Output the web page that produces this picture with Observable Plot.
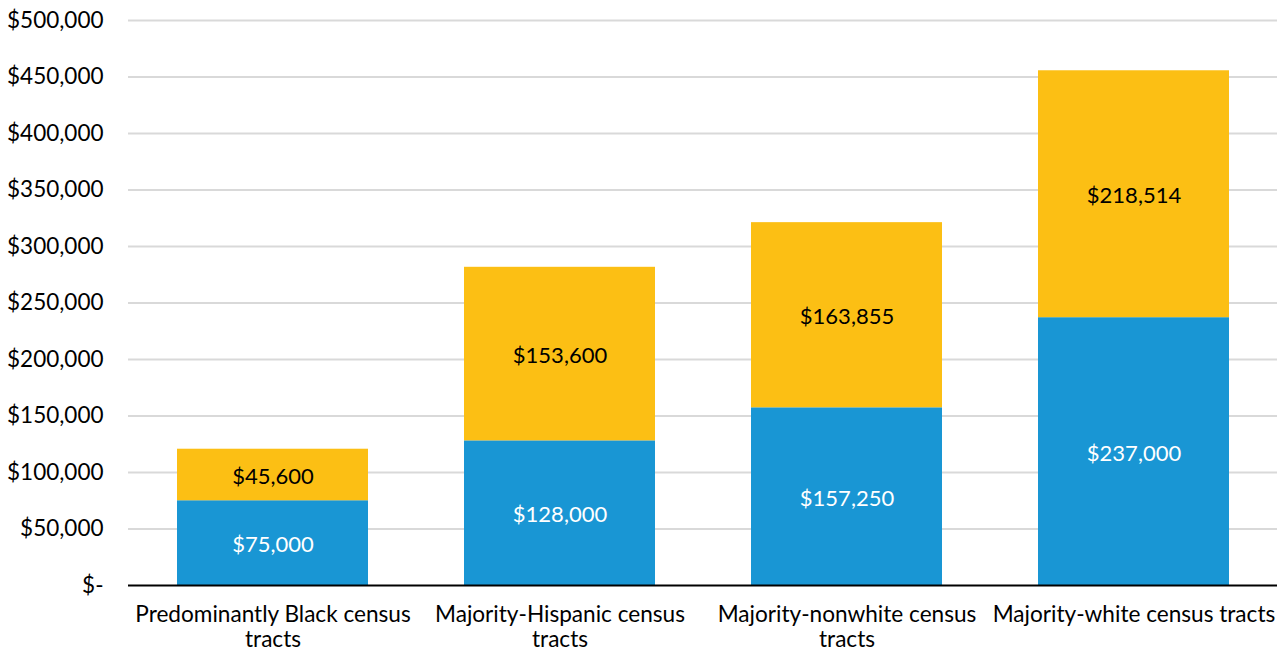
<!DOCTYPE html>
<html>
<head>
<meta charset="utf-8">
<script src="https://cdn.jsdelivr.net/npm/d3@7"></script>
<script src="https://cdn.jsdelivr.net/npm/@observablehq/plot@0.6"></script>
<style>
  html, body { margin: 0; padding: 0; background: #fff; }
  #chart svg { display: block; font-family: Lato, sans-serif; }
</style>
</head>
<body>
<div id="chart"></div>
<script>
const categories = [
  "Predominantly Black census\ntracts",
  "Majority-Hispanic census\ntracts",
  "Majority-nonwhite census\ntracts",
  "Majority-white census tracts"
];
const seriesNames = ["Lower", "Upper"];
const lowerValues = [75000, 128000, 157250, 237000];
const upperValues = [45600, 153600, 163855, 218514];
const yTicks = [0, 50000, 100000, 150000, 200000, 250000, 300000, 350000, 400000, 450000, 500000];
const seriesColors = ["#1996d4", "#fcbf14"];
const labelColors = ["#ffffff", "#000000"];

const data = [];
categories.forEach((c, i) => {
  data.push({category: c, series: seriesNames[0], value: lowerValues[i]});
  data.push({category: c, series: seriesNames[1], value: upperValues[i]});
});

const fmt = v => v === 0 ? "$-" : "$" + d3.format(",")(v);

const chart = Plot.plot({
  width: 1282,
  height: 654,
  marginLeft: 128,
  marginRight: 5,
  marginTop: 20,
  marginBottom: 69,
  style: {fontFamily: "Lato, sans-serif", fontSize: "22px", color: "#000", background: "#fff"},
  x: {domain: categories, paddingInner: 0.335, paddingOuter: 0.1675, label: null},
  y: {domain: [0, 500000], label: null},
  color: {domain: seriesNames, range: seriesColors},
  marks: [
    Plot.ruleY(yTicks.filter(d => d > 0), {stroke: "#d9d9d9", strokeWidth: 2}),
    Plot.barY(data, {x: "category", y: "value", fill: "series"}),
    Plot.ruleY([0], {stroke: "#000", strokeWidth: 2}),
    Plot.textY(data, Plot.stackY({
      x: "category", y: "value",
      text: d => fmt(d.value),
      fill: d => labelColors[seriesNames.indexOf(d.series)],
      fontSize: 22,
      dy: 2
    })),
    Plot.axisY({ticks: yTicks, tickFormat: fmt, tickSize: 0, tickPadding: 25, fontSize: 22.5, label: null}),
    Plot.axisX({tickSize: 0, tickPadding: 19, fontSize: 22.6, lineHeight: 1.1, label: null})
  ]
});
document.getElementById("chart").appendChild(chart);
</script>
</body>
</html>
